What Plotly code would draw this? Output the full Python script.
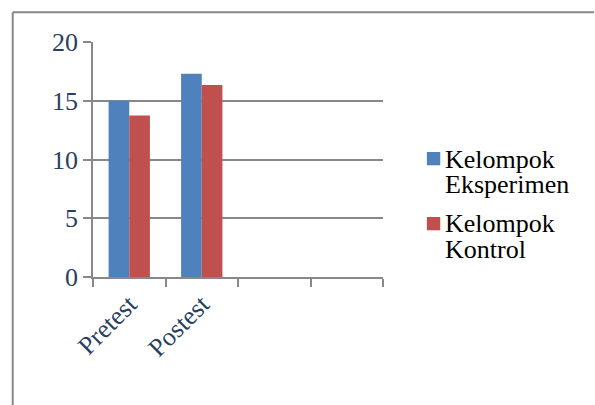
import plotly.graph_objects as go

# Category slots on the x axis (two of them are left empty)
categories = ["Pretest", "Postest", " ", "  "]
eksperimen = [15.0, 17.3, None, None]
kontrol = [13.75, 16.35, None, None]
series_lines = [["Kelompok", "Eksperimen"], ["Kelompok", "Kontrol"]]
series_colors = ["#4F81BD", "#C0504D"]
y_ticks = [0, 5, 10, 15, 20]

W, H = 595, 405
L, R, T, B = 92.5, 211.7, 41.7, 128.3
plot_w = W - L - R
plot_h = H - T - B

FONT = "Times New Roman"
FS = 26
GRID = "#888888"
# Times advance widths (em) used to place each legend line's right edge
ADV = {"K": .722, "E": .611, "e": .444, "l": .278, "o": .5, "m": .778,
       "p": .5, "k": .5, "s": .389, "r": .333, "i": .278, "n": .5, "t": .278}


def px_x(p):
    return (p - L) / plot_w


def px_y(p):
    return (H - B - p) / plot_h


fig = go.Figure()
for vals, lines, color in zip([eksperimen, kontrol], series_lines, series_colors):
    fig.add_trace(go.Bar(x=categories, y=vals, name=" ".join(lines),
                         marker=dict(color=color, line=dict(width=0)),
                         showlegend=False))

# Legend drawn by hand: a coloured square plus tightly spaced text lines.
# Annotation anchors are left on "auto": right-anchored in x here, and
# middle- or bottom-anchored in y depending on the paper position.
shapes = []
annotations = []
for i, (lines, color) in enumerate(zip(series_lines, series_colors)):
    top = 151.7 + 65 * i
    shapes.append(dict(
        type="rect", xref="paper", yref="paper",
        x0=px_x(427.3), x1=px_x(440.7), y0=px_y(top + 13.3), y1=px_y(top),
        line=dict(width=0), fillcolor=color,
    ))
    for j, text in enumerate(lines):
        width = sum(ADV.get(c, .5) for c in text) * FS
        center = top + 7 + 25.5 * j
        yp = px_y(center)
        if yp < 1 / 3:
            yp = px_y(center + 16)
        annotations.append(dict(
            text=text, xref="paper", yref="paper",
            x=px_x(448 + width), y=yp,
            showarrow=False,
            font=dict(family=FONT, size=FS, color="black"),
        ))

# Outer frame: left and top edges of the chart box
shapes.append(dict(type="line", xref="paper", yref="paper",
                   x0=px_x(12), x1=px_x(12), y0=px_y(405), y1=px_y(12),
                   line=dict(color=GRID, width=2), layer="below"))
shapes.append(dict(type="line", xref="paper", yref="paper",
                   x0=px_x(12), x1=px_x(595), y0=px_y(12), y1=px_y(12),
                   line=dict(color=GRID, width=2), layer="below"))

fig.update_layout(
    width=W, height=H,
    margin=dict(l=L, r=R, t=T, b=B, pad=0, autoexpand=False),
    paper_bgcolor="white", plot_bgcolor="white",
    barmode="group", bargap=0.43, bargroupgap=0,
    showlegend=False,
    xaxis=dict(
        type="category", categoryorder="array", categoryarray=categories,
        range=[-0.5, 3.5], tickson="boundaries",
        ticks="outside", ticklen=8, tickwidth=1.5, tickcolor=GRID,
        showline=True, linecolor=GRID, linewidth=1.5,
        showgrid=False, tickangle=-45, automargin=False,
        tickfont=dict(family=FONT, size=FS),
    ),
    yaxis=dict(
        range=[0, 20], tickvals=y_ticks, ticks="outside", ticklen=8,
        tickwidth=1.5, tickcolor=GRID,
        showline=True, linecolor=GRID, linewidth=1.5,
        showgrid=True, gridcolor=GRID, gridwidth=1.5, zeroline=False,
        automargin=False,
        tickfont=dict(family=FONT, size=FS),
    ),
    shapes=shapes,
    annotations=annotations,
)

fig.write_html("out.html")
